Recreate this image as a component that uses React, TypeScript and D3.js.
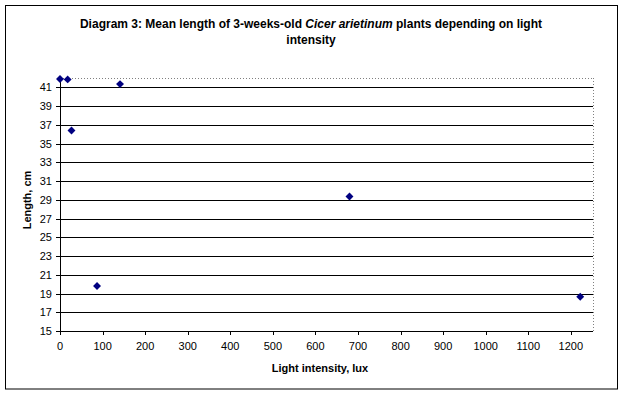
import React from "react";
import * as d3 from "d3";

const lightLux = [0, 18, 27, 87, 141, 680, 1222];
const lengthCm = [41.9, 41.85, 36.4, 19.8, 41.35, 29.35, 18.65];
const xTicks = [0, 100, 200, 300, 400, 500, 600, 700, 800, 900, 1000, 1100, 1200];
const yTicks = [15, 17, 19, 21, 23, 25, 27, 29, 31, 33, 35, 37, 39, 41];

const W = 623;
const H = 395;
const plot = { left: 60, right: 593, top: 78, bottom: 331 };

export default function App() {
  const x = d3.scaleLinear().domain([0, 1252]).range([plot.left, plot.right]);
  const y = d3.scaleLinear().domain([15, 42]).range([plot.bottom, plot.top]);
  const diamond = d3.symbol().type(d3.symbolDiamond2).size(40)();
  const font = "Liberation Sans, Arial, sans-serif";
  return (
    <svg width={W} height={H} style={{ position: "absolute", left: 0, top: 0 }} fontFamily={font}>
      <rect x={0} y={0} width={W} height={H} fill="#fff" />
      <rect x={5.5} y={5.5} width={612} height={383.5} fill="#fff" stroke="#000" strokeWidth={1} />
      <text x={311} y={28} textAnchor="middle" fontSize={12} fontWeight="bold">
        Diagram 3: Mean length of 3-weeks-old <tspan fontStyle="italic">Cicer arietinum</tspan> plants depending on light
      </text>
      <text x={311} y={44} textAnchor="middle" fontSize={12} fontWeight="bold">intensity</text>
      {/* plot border (dotted gray top/right) */}
      <line x1={plot.left} x2={plot.right + 0.5} y1={plot.top + 0.5} y2={plot.top + 0.5} stroke="#808080" strokeDasharray="1,2" />
      <line x1={plot.right + 0.5} x2={plot.right + 0.5} y1={plot.top} y2={plot.bottom} stroke="#808080" strokeDasharray="1,2" />
      {yTicks.map((t) => (
        <g key={t}>
          <line x1={plot.left - 4} x2={plot.right} y1={Math.round(y(t)) + 0.5} y2={Math.round(y(t)) + 0.5} stroke="#000" />
          <text x={52} y={Math.round(y(t)) + 4} textAnchor="end" fontSize={11}>{t}</text>
        </g>
      ))}
      <line x1={plot.left + 0.5} x2={plot.left + 0.5} y1={plot.top} y2={plot.bottom} stroke="#000" />
      {xTicks.map((t) => (
        <g key={t}>
          <line x1={Math.round(x(t)) + 0.5} x2={Math.round(x(t)) + 0.5} y1={plot.bottom} y2={plot.bottom + 4} stroke="#000" />
          <text x={x(t)} y={350} textAnchor="middle" fontSize={11}>{t}</text>
        </g>
      ))}
      {lightLux.map((v, i) => (
        <path key={i} d={diamond} transform={`translate(${x(v)},${y(lengthCm[i])})`} fill="#000080" />
      ))}
      <text x={320} y={372} textAnchor="middle" fontSize={11} fontWeight="bold">Light intensity, lux</text>
      <text transform="translate(31,200) rotate(-90)" textAnchor="middle" fontSize={11} fontWeight="bold">Length, cm</text>
    </svg>
  );
}
